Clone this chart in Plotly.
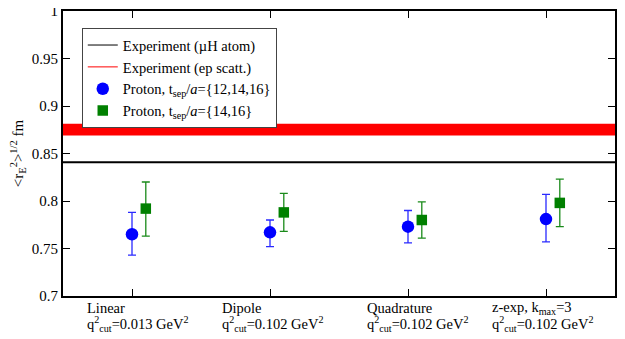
import plotly.graph_objects as go

# ---- data ----
categories = ["Linear", "Dipole", "Quadrature", "z-exp, k<sub>max</sub>=3"]
cut_labels = ["q<sup>2</sup><sub>cut</sub>=0.013 GeV<sup>2</sup>",
              "q<sup>2</sup><sub>cut</sub>=0.102 GeV<sup>2</sup>",
              "q<sup>2</sup><sub>cut</sub>=0.102 GeV<sup>2</sup>",
              "q<sup>2</sup><sub>cut</sub>=0.102 GeV<sup>2</sup>"]
x_pos = [1, 2, 3, 4]

blue_val = [0.765, 0.767, 0.773, 0.781]
blue_up = [0.023, 0.013, 0.017, 0.026]
blue_dn = [0.022, 0.015, 0.017, 0.024]

green_val = [0.792, 0.788, 0.780, 0.798]
green_up = [0.028, 0.020, 0.019, 0.025]
green_dn = [0.029, 0.020, 0.019, 0.025]

muH_value = 0.8409
ep_value = 0.8751
ep_err = 0.0061

y_tickvals = [0.7, 0.75, 0.8, 0.85, 0.9, 0.95, 1.0]
y_ticktext = ["0.7", "0.75", "0.8", "0.85", "0.9", "0.95", "1"]

# ---- layout helpers (positions / styles) ----
green_offset = 0.1
label_shift = [-47, -50, -43, -56]
serif = "Liberation Serif"

fig = go.Figure()

fig.add_shape(type="rect", xref="x domain", yref="y", x0=0, x1=1,
              y0=ep_value - ep_err, y1=ep_value + ep_err,
              fillcolor="#ff0000", line_width=0, layer="below")
fig.add_shape(type="line", xref="x domain", yref="y", x0=0, x1=1,
              y0=muH_value, y1=muH_value, line=dict(color="black", width=2))

fig.add_trace(go.Scatter(x=[None], y=[None], mode="lines",
                         line=dict(color="black", width=1),
                         name="Experiment (\u00b5H atom)"))
fig.add_trace(go.Scatter(x=[None], y=[None], mode="lines",
                         line=dict(color="red", width=1),
                         name="Experiment (ep scatt.)"))

fig.add_trace(go.Scatter(
    x=x_pos, y=blue_val, mode="markers",
    marker=dict(symbol="circle", size=12.5, color="#0000ff"),
    error_y=dict(type="data", symmetric=False, array=blue_up, arrayminus=blue_dn,
                 color="#2a2aff", thickness=1.3, width=4),
    name="Proton, t<sub>sep</sub>/<i>a</i>={12,14,16}"))

fig.add_trace(go.Scatter(
    x=[v + green_offset for v in x_pos], y=green_val, mode="markers",
    marker=dict(symbol="square", size=10.5, color="#008000"),
    error_y=dict(type="data", symmetric=False, array=green_up, arrayminus=green_dn,
                 color="#1a8a1a", thickness=1.3, width=4),
    name="Proton, t<sub>sep</sub>/<i>a</i>={14,16}"))

for xv, c, q, s in zip(x_pos, categories, cut_labels, label_shift):
    fig.add_annotation(x=xv, y=0, xref="x", yref="paper", yanchor="middle",
                       xanchor="left", xshift=s, yshift=-12,
                       text=c, showarrow=False, align="left",
                       font=dict(family=serif, size=14.5, color="black"))
    fig.add_annotation(x=xv, y=0, xref="x", yref="paper", yanchor="middle",
                       xanchor="left", xshift=s, yshift=-28,
                       text=q, showarrow=False, align="left",
                       font=dict(family=serif, size=14.5, color="black"))

fig.update_layout(
    width=617, height=331,
    margin=dict(l=55, r=10, t=3, b=43, autoexpand=False),
    paper_bgcolor="white", plot_bgcolor="white",
    font=dict(family=serif, size=15, color="black"),
    showlegend=True,
    legend=dict(x=0.034, y=0.94, xanchor="left", yanchor="top",
                bgcolor="white", bordercolor="#444", borderwidth=1,
                font=dict(family=serif, size=14.5), tracegroupgap=0,
                itemwidth=30),
    xaxis=dict(range=[0.5, 4.5], tickvals=x_pos, ticktext=["", "", "", ""],
               ticks="inside", ticklen=7, tickwidth=1, tickcolor="black",
               showline=True, linecolor="black", linewidth=2, mirror="ticks",
               showgrid=False, zeroline=False, automargin=False),
    yaxis=dict(range=[0.7, 1.0], tickvals=y_tickvals, ticktext=y_ticktext,
               ticks="inside", ticklen=7, tickwidth=1, tickcolor="black",
               tickfont=dict(family=serif, size=15), ticklabeloverflow="allow",
               showline=True, linecolor="black", linewidth=2, mirror="ticks",
               showgrid=False, zeroline=False, automargin=False,
               title=dict(text="&lt;r<sub>E</sub><sup>2</sup>&gt;<sup>1/2</sup> fm",
                          font=dict(family=serif, size=15), standoff=6)),
)

fig.write_html("out.html")
